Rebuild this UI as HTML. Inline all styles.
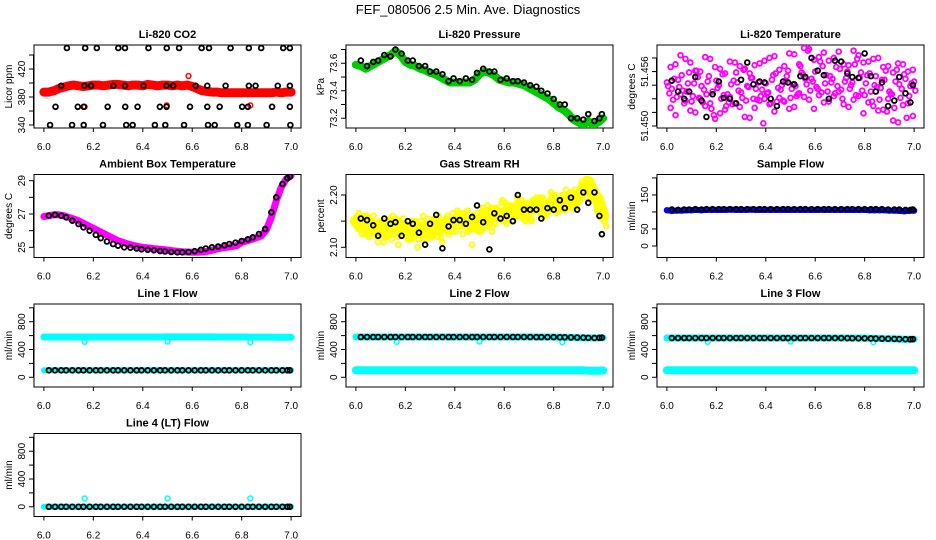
<!DOCTYPE html>
<html><head><meta charset="utf-8"><style>
html,body{margin:0;padding:0;background:#fff;}
svg{display:block;font-family:"Liberation Sans",sans-serif;}
</style></head><body>
<svg id="chart" width="936" height="540" viewBox="0 0 936 540" xmlns="http://www.w3.org/2000/svg">
<rect x="0" y="0" width="936" height="540" fill="#fff"/>
<text x="468" y="14" font-size="13" text-anchor="middle">FEF_080506  2.5 Min. Ave. Diagnostics</text>
</svg>
<script>
// ---------- data ----------
const t50 = [6.00,6.02,6.04,6.06,6.08,6.10,6.12,6.14,6.16,6.18,6.20,6.22,6.24,6.26,6.28,6.30,6.32,6.34,6.36,6.38,6.40,6.42,6.44,6.46,6.48,6.50,6.52,6.54,6.56,6.58,6.60,6.62,6.64,6.66,6.68,6.70,6.72,6.74,6.76,6.78,6.80,6.82,6.84,6.86,6.88,6.90,6.92,6.94,6.96,6.98,7.00];
const tHalf = [6.01,6.03,6.05,6.07,6.09,6.11,6.13,6.15,6.17,6.19,6.21,6.23,6.25,6.27,6.29,6.31,6.33,6.35,6.37,6.39,6.41,6.43,6.45,6.47,6.49,6.51,6.53,6.55,6.57,6.59,6.61,6.63,6.65,6.67,6.69,6.71,6.73,6.75,6.77,6.79,6.81,6.83,6.85,6.87,6.89,6.91,6.93,6.95,6.97,6.99];
const tBlack = [6.02,6.045,6.07,6.09,6.115,6.14,6.16,6.185,6.21,6.23,6.255,6.28,6.3,6.325,6.35,6.375,6.395,6.42,6.445,6.47,6.49,6.515,6.54,6.56,6.585,6.61,6.635,6.655,6.68,6.705,6.73,6.75,6.775,6.8,6.825,6.845,6.87,6.895,6.92,6.94,6.965,6.985,6.995];
const xTicks = [6.0,6.2,6.4,6.6,6.8,7.0];
const xTickLabels = ["6.0","6.2","6.4","6.6","6.8","7.0"];

// CO2
const co2Red = [387,387,389,392,394,396,397,396,395,396,397,397,396,397,398,398,397,396,397,397,396,398,397,396,397,397,396,397,396,397,395,392,389,388,387,387,386,386,386,386,386,386,386,386,386,386,386,387,386,387,387];
const co2RedOutX = [6.165,6.497,6.585,6.835];
const co2RedOutY = [366,368,410,368];
const co2BlackX = [6.093,6.167,6.214,6.301,6.328,6.423,6.497,6.547,6.638,6.668,6.755,6.829,6.879,6.968,6.995,
 6.070,6.164,6.191,6.281,6.328,6.403,6.496,6.523,6.614,6.661,6.735,6.829,6.856,6.946,6.995,
 6.047,6.137,6.161,6.258,6.329,6.379,6.469,6.496,6.591,6.661,6.711,6.802,6.825,6.923,6.995,
 6.025,6.114,6.161,6.239,6.333,6.359,6.449,6.491,6.567,6.664,6.691,6.782,6.825,6.901,6.997];
const co2BlackY = [450,450,450,450,450,450,450,450,450,450,450,450,450,450,450,
 396,396,396,396,396,396,396,396,396,396,396,396,396,396,396,
 366,366,366,366,366,366,366,366,366,366,366,366,366,366,366,
 340,340,340,340,340,340,340,340,340,340,340,340,340,340,340];

// Pressure
const presGreen = [73.59,73.58,73.56,73.58,73.60,73.62,73.64,73.66,73.69,73.66,73.61,73.59,73.58,73.56,73.55,73.53,73.52,73.50,73.48,73.46,73.46,73.46,73.46,73.46,73.48,73.52,73.54,73.53,73.51,73.48,73.47,73.46,73.46,73.45,73.44,73.42,73.40,73.38,73.36,73.34,73.31,73.28,73.26,73.23,73.19,73.17,73.15,73.18,73.15,73.17,73.20];
const presBlack = [73.62,73.58,73.61,73.62,73.66,73.65,73.70,73.67,73.62,73.62,73.58,73.58,73.54,73.54,73.52,73.47,73.49,73.47,73.49,73.48,73.53,73.56,73.54,73.54,73.48,73.49,73.47,73.47,73.46,73.44,73.43,73.40,73.38,73.34,73.30,73.30,73.20,73.20,73.19,73.23,73.18,73.20,73.23];

// Li-820 temperature
const tempA = [51.4548,51.4541,51.4532,51.4556,51.4538,51.4527,51.4561,51.4544,51.4535,51.4519,51.4550,51.4530,51.4522,51.4546,51.4559,51.4537,51.4528,51.4553,51.4541,51.4533,51.4547,51.4525,51.4558,51.4540,51.4549,51.4531,51.4544,51.4566,51.4552,51.4539,51.4560,51.4571,51.4547,51.4555,51.4536,51.4563,51.4549,51.4541,51.4568,51.4553,51.4534,51.4558,51.4545,51.4529,51.4551,51.4538,51.4520,51.4546,51.4557,51.4533,51.4549];
const tempB = [51.4536,51.4552,51.4543,51.4525,51.4559,51.4547,51.4531,51.4540,51.4555,51.4512,51.4545,51.4534,51.4526,51.4550,51.4539,51.4562,51.4543,51.4530,51.4548,51.4503,51.4537,51.4556,51.4542,51.4528,51.4561,51.4546,51.4535,51.4557,51.4583,51.4549,51.4541,51.4566,51.4538,51.4552,51.4544,51.4530,51.4560,51.4548,51.4574,51.4539,51.4556,51.4527,51.4543,51.4551,51.4516,51.4535,51.4562,51.4541,51.4509,51.4547];
const tempC = [51.4544,51.4529,51.4551,51.4539,51.4547,51.4533,51.4554,51.4526,51.4549,51.4538,51.4542,51.4557,51.4535,51.4524,51.4548,51.4531,51.4544,51.4553,51.4529,51.4540,51.4536,51.4551,51.4527,51.4545,51.4555,51.4541,51.4533,51.4559,51.4546,51.4552,51.4543,51.4537,51.4556,51.4548,51.4565,51.4540,51.4553,51.4545,51.4534,51.4559,51.4547,51.4538,51.4555,51.4542,51.4561,51.4536,51.4549,51.4531,51.4552,51.4544,51.4539];
const tempD = [51.4565,51.4512,51.4578,51.4528,51.4570,51.4515,51.4560,51.4522,51.4574,51.4508,51.4563,51.4518,51.4571,51.4525,51.4566,51.4510,51.4558,51.4520,51.4569,51.4530,51.4575,51.4516,51.4562,51.4527,51.4580,51.4521,51.4568,51.4532,51.4585,51.4519,51.4576,51.4526,51.4572,51.4533,51.4582,51.4524,51.4567,51.4529,51.4578,51.4514,51.4571,51.4522,51.4575,51.4518,51.4566,51.4506,51.4569,51.4523,51.4560,51.4511,51.4564];
const tempE = [51.4520,51.4568,51.4535,51.4574,51.4517,51.4561,51.4530,51.4576,51.4525,51.4565,51.4514,51.4558,51.4532,51.4570,51.4521,51.4563,51.4509,51.4567,51.4528,51.4572,51.4524,51.4577,51.4531,51.4566,51.4519,51.4579,51.4536,51.4586,51.4529,51.4573,51.4534,51.4581,51.4527,51.4575,51.4538,51.4568,51.4521,51.4583,51.4533,51.4570,51.4526,51.4574,51.4517,51.4565,51.4530,51.4559,51.4504,51.4568,51.4525,51.4562];
const tempBlack = [51.4550,51.4538,51.4530,51.4538,51.4554,51.4528,51.4510,51.4535,51.4549,51.4531,51.4530,51.4525,51.4551,51.4570,51.4546,51.4549,51.4548,51.4530,51.4522,51.4549,51.4548,51.4546,51.4555,51.4554,51.4575,51.4561,51.4556,51.4530,51.4572,51.4571,51.4558,51.4554,51.4553,51.4580,51.4555,51.4538,51.4548,51.4522,51.4528,51.4554,51.4536,51.4526,51.4545];

// Ambient box temperature
const ambMag = [26.85,26.9,26.95,26.95,26.9,26.8,26.7,26.6,26.45,26.3,26.15,26.0,25.85,25.7,25.55,25.4,25.3,25.2,25.12,25.05,25.0,24.97,24.93,24.9,24.87,24.84,24.8,24.77,24.74,24.72,24.7,24.7,24.72,24.76,24.82,24.9,24.96,25.0,25.05,25.1,25.3,25.38,25.47,25.58,25.7,26.05,26.8,27.8,28.6,29.1,29.3];
const ambBlack = [26.9,26.95,26.9,26.8,26.6,26.4,26.2,26.0,25.75,25.55,25.35,25.2,25.1,25.0,24.98,24.93,24.88,24.85,24.82,24.78,24.75,24.72,24.7,24.7,24.72,24.77,24.85,24.93,25.0,25.05,25.12,25.2,25.28,25.38,25.48,25.6,25.8,26.1,27.1,28.0,28.8,29.15,29.25];

// Gas stream RH
const rhA = [2.150,2.140,2.155,2.135,2.130,2.145,2.125,2.140,2.150,2.130,2.135,2.120,2.145,2.130,2.140,2.125,2.150,2.135,2.145,2.140,2.150,2.160,2.145,2.140,2.155,2.135,2.165,2.150,2.170,2.160,2.155,2.175,2.165,2.180,2.160,2.170,2.185,2.175,2.165,2.180,2.190,2.175,2.185,2.195,2.180,2.200,2.210,2.225,2.205,2.190,2.160];
const rhB = [2.135,2.160,2.125,2.145,2.110,2.150,2.130,2.160,2.120,2.140,2.115,2.150,2.100,2.135,2.155,2.120,2.145,2.110,2.160,2.130,2.170,2.140,2.155,2.105,2.180,2.150,2.165,2.130,2.175,2.185,2.145,2.170,2.160,2.190,2.175,2.150,2.195,2.170,2.185,2.205,2.165,2.180,2.210,2.175,2.195,2.215,2.230,2.200,2.185,2.175];
const rhC = [2.160,2.125,2.145,2.150,2.120,2.135,2.150,2.115,2.135,2.145,2.125,2.140,2.130,2.150,2.115,2.135,2.140,2.120,2.155,2.145,2.130,2.145,2.165,2.150,2.140,2.160,2.150,2.175,2.145,2.165,2.185,2.160,2.180,2.170,2.150,2.185,2.170,2.195,2.180,2.175,2.200,2.185,2.170,2.195,2.210,2.190,2.205,2.215,2.190,2.180,2.150];
const rhD = [2.165,2.130,2.120,2.160,2.140,2.110,2.150,2.135,2.105,2.155,2.140,2.130,2.115,2.160,2.125,2.145,2.120,2.150,2.130,2.165,2.140,2.125,2.170,2.135,2.165,2.145,2.180,2.140,2.160,2.190,2.170,2.150,2.195,2.165,2.185,2.155,2.175,2.190,2.170,2.200,2.180,2.195,2.175,2.205,2.185,2.220,2.195,2.210,2.180,2.170,2.140];
const rhE = [2.145,2.125,2.155,2.130,2.140,2.120,2.155,2.125,2.145,2.135,2.150,2.120,2.140,2.115,2.145,2.130,2.160,2.140,2.125,2.150,2.145,2.165,2.130,2.160,2.150,2.175,2.140,2.165,2.155,2.170,2.180,2.160,2.175,2.185,2.160,2.180,2.170,2.195,2.175,2.190,2.185,2.200,2.190,2.205,2.200,2.225,2.215,2.195,2.170,2.155];
const rhBlack = [2.155,2.152,2.142,2.122,2.155,2.145,2.148,2.122,2.150,2.145,2.128,2.105,2.145,2.162,2.098,2.140,2.152,2.152,2.145,2.158,2.180,2.148,2.096,2.165,2.155,2.160,2.150,2.200,2.172,2.172,2.172,2.155,2.175,2.172,2.190,2.175,2.195,2.172,2.205,2.185,2.205,2.160,2.125];

// Sample flow
const sfBlue = [105,103,104,104,105,105,106,105,106,106,106,106,106,107,106,106,106,107,106,106,106,106,106,106,106,106,106,106,106,106,106,106,106,106,106,106,106,106,106,106,106,105,105,105,105,104,104,103,102,103,104];
const sfBlack = [107,106,107,107,108,107,108,108,108,108,108,108,108,108,108,108,108,108,108,108,108,108,108,108,108,108,108,108,108,108,108,108,108,108,108,108,108,107,107,107,106,106,107];

// Line flows
const outX = [6.165,6.5,6.835];
const outHi = [510,515,505];
const outL4 = [120,120,120];
const l1CyanHi = [580,580,580,580,580,580,580,580,580,580,580,580,580,580,580,580,580,580,580,580,580,580,580,580,580,582,582,582,582,582,582,582,582,582,582,580,580,580,580,580,580,580,578,578,578,578,578,576,576,576,576];
const l1CyanLo = [100,100,100,100,100,100,100,100,100,100,100,100,100,100,100,100,100,100,100,100,100,100,100,100,100,100,100,100,100,100,100,100,100,100,100,100,100,100,100,100,100,100,100,100,100,100,100,100,100,100,100];
const l1Black = [100,100,100,100,100,100,100,100,100,100,100,100,100,100,100,100,100,100,100,100,100,100,100,100,100,100,100,100,100,100,100,100,100,100,100,100,100,100,100,100,100,100,100];
const l2CyanHi = [580,580,580,580,580,580,580,580,580,580,580,580,580,580,580,580,580,580,580,580,580,580,580,580,580,580,580,580,580,580,580,580,580,580,580,580,580,580,580,580,580,578,576,574,572,570,568,566,566,566,568];
const l2CyanLo = [100,100,100,100,100,100,100,100,100,100,100,100,100,100,100,100,100,100,100,100,100,100,100,100,100,100,100,100,100,100,100,100,100,100,100,100,100,100,100,100,100,100,100,100,100,100,100,95,95,95,98];
const l2Black = [580,580,580,580,580,580,580,580,580,580,580,580,580,580,580,580,580,580,580,580,580,580,580,580,580,580,580,580,580,580,578,578,578,578,576,576,574,572,570,568,566,568,570];
const l3CyanHi = [565,565,565,565,565,565,565,565,565,565,565,565,565,565,565,565,565,565,565,565,565,565,565,565,565,565,565,565,565,565,565,565,565,565,565,565,565,565,565,565,565,562,560,558,556,554,552,550,548,548,550];
const l3CyanLo = [100,100,100,100,100,100,100,100,100,100,100,100,100,100,100,100,100,100,100,100,100,100,100,100,100,100,100,100,100,100,100,100,100,100,100,100,100,100,100,100,100,100,100,100,100,100,100,100,100,100,100];
const l3Black = [565,565,565,565,565,565,565,565,565,565,565,565,565,565,565,565,565,565,565,565,565,565,565,565,565,565,565,565,564,564,563,562,561,560,559,558,556,554,552,550,548,546,548];
const l4Cyan = [0,0,0,0,0,0,0,0,0,0,0,0,0,0,0,0,0,0,0,0,0,0,0,0,0,0,0,0,0,0,0,0,0,0,0,0,0,0,0,0,0,0,0,0,0,0,0,0,0,0,0];
const l4Black = [0,0,0,0,0,0,0,0,0,0,0,0,0,0,0,0,0,0,0,0,0,0,0,0,0,0,0,0,0,0,0,0,0,0,0,0,0,0,0,0,0,0,0];

// ---------- drawing ----------
const NS = "http://www.w3.org/2000/svg";
const svg = document.getElementById('chart');
const colLeft = [34, 346, 657];
const rowTop = [45, 174.5, 304, 433.5];
const BW = 267, BH = 83;

function mk(tag, attrs, parent) {
  const e = document.createElementNS(NS, tag);
  for (const k in attrs) e.setAttribute(k, attrs[k]);
  parent.appendChild(e);
  return e;
}

function panel(name, col, row, title, ylab, yLo, yHi, yTicks, yLabels) {
  const L = colLeft[col], T = rowTop[row], B = T + BH;
  const g = mk('g', {}, svg);
  
  
  const sx = v => L + (v - 5.96) / 1.08 * BW;
  const sy = v => B - (v - yLo) / (yHi - yLo) * BH;
  const box = mk('rect', {x: L, y: T, width: BW, height: BH, fill: 'none', stroke: '#000', 'stroke-width': 1}, g);
  
  
  const tt = mk('text', {x: L + BW / 2, y: T - 7, 'font-size': 11, 'font-weight': 'bold', 'text-anchor': 'middle'}, g);
  tt.textContent = title;
  
  
  const yl = mk('text', {x: 0, y: 0, 'font-size': 10, 'text-anchor': 'middle', transform: `translate(${L - 22},${T + BH / 2}) rotate(-90)`}, g);
  yl.textContent = ylab;
  
  
  const xa = mk('g', {}, g);
  
  
  xTicks.forEach((v, i) => {
    mk('line', {x1: sx(v), x2: sx(v), y1: B, y2: B + 4, stroke: '#000'}, xa);
    const tx = mk('text', {x: sx(v), y: B + 22, 'font-size': 10, 'text-anchor': 'middle'}, xa);
    tx.textContent = xTickLabels[i];
    
    
  });
  const ya = mk('g', {}, g);
  
  
  mk('line', {x1: L - 0.5, x2: L - 0.5, y1: sy(yTicks[0]), y2: sy(yTicks[yTicks.length - 1]), stroke: '#000'}, ya);
  yTicks.forEach((v, i) => {
    mk('line', {x1: L - 5, x2: L, y1: sy(v), y2: sy(v), stroke: '#000'}, ya);
    if (yLabels[i]) {
      const ty = mk('text', {x: 0, y: 0, 'font-size': 10, 'text-anchor': 'middle', transform: `translate(${L - 9},${sy(v)}) rotate(-90)`}, ya);
      ty.textContent = yLabels[i];
      
      
    }
  });
  const clip = 'clip-' + name;
  const cp = mk('clipPath', {id: clip}, g);
  mk('rect', {x: L, y: T, width: BW, height: BH}, cp);
  const plot = mk('g', {'clip-path': `url(#${clip})`}, g);
  
  
  return {
    band(xs, ys, color, w, sname) {
      const pts = xs.map((x, i) => sx(x).toFixed(1) + ',' + sy(ys[i]).toFixed(1)).join(' ');
      const p = mk('polyline', {points: pts, fill: 'none', stroke: color, 'stroke-width': w, 'stroke-linejoin': 'round', 'stroke-linecap': 'round'}, plot);
      
      
    },
    pts(xs, ys, color, sname, r, sw) {
      const gg = mk('g', {}, plot);
      
      
      xs.forEach((x, i) => {
        const c = mk('circle', {cx: sx(x), cy: sy(ys[i]), r: r || 2.4, fill: 'none', stroke: color, 'stroke-width': sw || 1.5}, gg);
        
        
      });
    }
  };
}

const RED = '#ff0000', GREEN = '#00cc00', MAG = '#ff00ff', YEL = '#ffff00', BLUE = '#0000ff', CY = '#00ffff';

// Row 1
let p = panel('co2', 0, 0, 'Li-820 CO2', 'Licor ppm', 335.7, 454.3, [340,360,380,400,420,440], ['340','','380','','420','']);
p.band(t50, co2Red, RED, 9, 'co2-red-band');
p.pts(t50, co2Red, RED, 'co2-red-series');
p.pts(co2RedOutX, co2RedOutY, RED, 'co2-red-outliers');
p.pts(co2BlackX, co2BlackY, '#000', 'co2-black-series', 2.4, 1.8);

p = panel('pressure', 1, 0, 'Li-820 Pressure', 'kPa', 73.129, 73.733, [73.2,73.3,73.4,73.5,73.6,73.7], ['73.2','','73.4','','73.6','']);
p.band(t50, presGreen, GREEN, 8, 'pressure-green-band');
p.pts(t50, presGreen, GREEN, 'pressure-green-series');
p.pts(tBlack, presBlack, '#000', 'pressure-black-series', 2.4, 1.8);

p = panel('li820-temp', 2, 0, 'Li-820 Temperature', 'degrees C', 51.44978, 51.45893, [51.450,51.4515,51.453,51.4545,51.456,51.4575], ['51.450','','','','51.456','']);
p.pts(t50, tempA, MAG, 'temp-magenta-a', 2.4, 1.8);
p.pts(tHalf, tempB, MAG, 'temp-magenta-b', 2.4, 1.8);
p.pts(t50.map(v => v + 0.005), tempC, MAG, 'temp-magenta-c', 2.4, 1.8);
p.pts(tHalf.map(v => v + 0.005), tempD, MAG, 'temp-magenta-d', 2.4, 1.8);
p.pts(t50.map(v => v + 0.015), tempE.concat([]), MAG, 'temp-magenta-e', 2.4, 1.8);
p.pts(tBlack, tempBlack, '#000', 'temp-black-series', 2.4, 1.8);

// Row 2
p = panel('ambient', 0, 1, 'Ambient Box Temperature', 'degrees C', 24.39, 29.37, [25,26,27,28,29], ['25','','27','','29']);
p.band(t50, ambMag, MAG, 7, 'ambient-magenta-band');
p.pts(t50, ambMag, MAG, 'ambient-magenta-series');
p.pts(tBlack, ambBlack, '#000', 'ambient-black-series', 2.4, 1.8);

p = panel('rh', 1, 1, 'Gas Stream RH', 'percent', 2.0805, 2.2392, [2.10,2.15,2.20], ['2.10','','2.20']);
p.band(t50, rhA, YEL, 12, 'rh-yellow-band');
p.pts(t50, rhA, YEL, 'rh-yellow-a', 2.4, 1.8);
p.pts(tHalf, rhB, YEL, 'rh-yellow-b', 2.4, 1.8);
p.pts(t50.map(v => v + 0.005), rhC, YEL, 'rh-yellow-c', 2.4, 1.8);
p.pts(t50.map(v => v + 0.012), rhD, YEL, 'rh-yellow-d', 2.4, 1.8);
p.pts(tHalf.map(v => v + 0.005), rhE, YEL, 'rh-yellow-e', 2.4, 1.8);
p.pts(tBlack, rhBlack, '#000', 'rh-black-series', 2.4, 1.8);

p = panel('sample-flow', 2, 1, 'Sample Flow', 'ml/min', -33.8, 210, [0,50,100,150,200], ['0','50','','150','']);
p.band(t50, sfBlue, BLUE, 6, 'sample-flow-blue-band');
p.pts(t50, sfBlue, BLUE, 'sample-flow-blue-series');
p.pts(tBlack, sfBlack, '#000', 'sample-flow-black-series', 2.4, 1.8);

// Rows 3-4
const fT = [0,200,400,600,800,1000], fL = ['0','','400','','800',''];
p = panel('line1-flow', 0, 2, 'Line 1 Flow', 'ml/min', -140, 1055, fT, fL);
p.band(t50, l1CyanHi, CY, 7, 'line1-cyan-high-band');
p.band(t50, l1CyanLo, CY, 6, 'line1-cyan-low-band');
p.pts(outX, outHi, CY, 'line1-cyan-outliers');
p.pts(tBlack, l1Black, '#000', 'line1-black-series', 2.4, 1.8);

p = panel('line2-flow', 1, 2, 'Line 2 Flow', 'ml/min', -140, 1055, fT, fL);
p.band(t50, l2CyanHi, CY, 7, 'line2-cyan-high-band');
p.band(t50, l2CyanLo, CY, 8, 'line2-cyan-low-band');
p.pts(outX, outHi, CY, 'line2-cyan-outliers');
p.pts(tBlack, l2Black, '#000', 'line2-black-series', 2.4, 1.8);

p = panel('line3-flow', 2, 2, 'Line 3 Flow', 'ml/min', -140, 1055, fT, fL);
p.band(t50, l3CyanHi, CY, 7, 'line3-cyan-high-band');
p.band(t50, l3CyanLo, CY, 8, 'line3-cyan-low-band');
p.pts(outX, outHi, CY, 'line3-cyan-outliers');
p.pts(tBlack, l3Black, '#000', 'line3-black-series', 2.4, 1.8);

p = panel('line4-flow', 0, 3, 'Line 4 (LT) Flow', 'ml/min', -140, 1055, fT, fL);
p.band(t50, l4Cyan, CY, 6, 'line4-cyan-band');
p.pts(outX, outL4, CY, 'line4-cyan-outliers');
p.pts(tBlack, l4Black, '#000', 'line4-black-series', 2.4, 1.8);
</script>
</body></html>
